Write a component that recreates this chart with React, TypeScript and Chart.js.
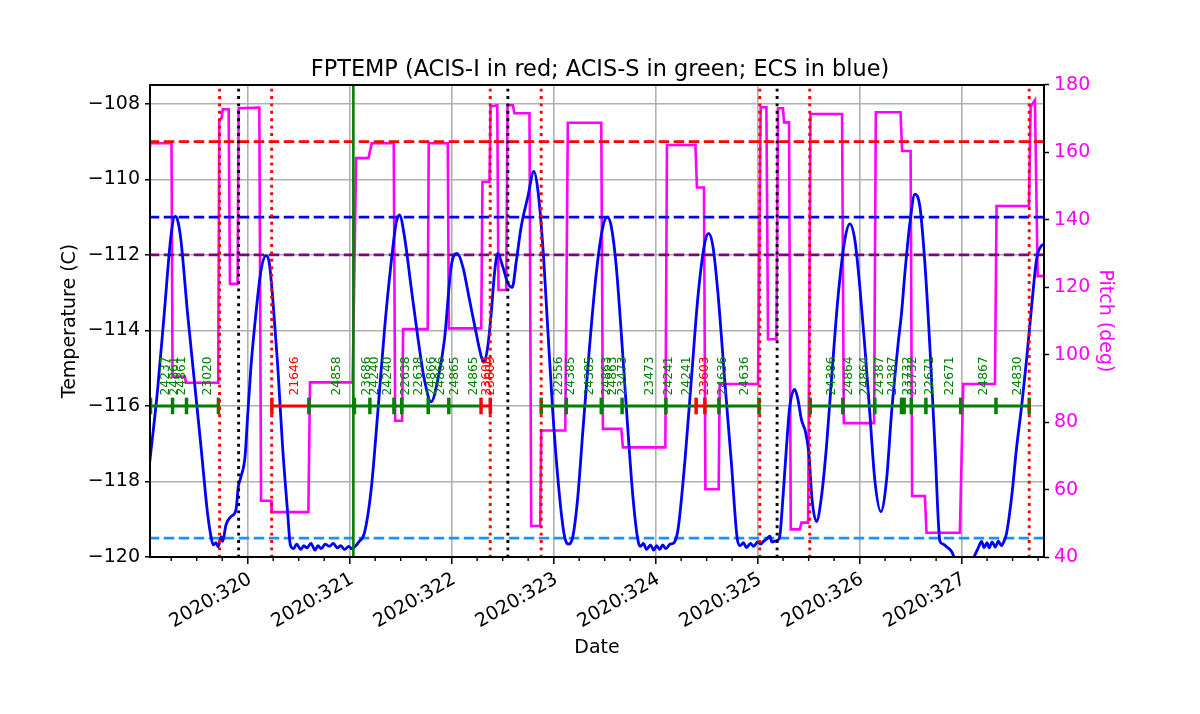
import React, { useEffect, useRef } from "react";
import { Chart, registerables } from "chart.js";

Chart.register(...registerables);
Chart.defaults.font.family = "'DejaVu Sans', sans-serif";

// ---------------- data ----------------
const tempDays = [
  319.034, 319.116, 319.182, 319.247, 319.287, 319.312, 319.345, 319.41, 319.476, 319.542, 319.606, 319.64, 319.662,
  319.689, 319.711, 319.738, 319.754, 319.787, 319.836, 319.885, 319.908, 319.934, 319.974, 319.999, 320.032, 320.081,
  320.131, 320.18, 320.212, 320.244, 320.293, 320.342, 320.392, 320.418, 320.45, 320.48, 320.52, 320.55, 320.58,
  320.62, 320.66, 320.69, 320.72, 320.76, 320.8, 320.84, 320.88, 320.91, 320.95, 320.99, 321.02, 321.06, 321.09,
  321.144, 321.21, 321.275, 321.341, 321.406, 321.455, 321.488, 321.537, 321.602, 321.667, 321.733, 321.799, 321.864,
  321.929, 321.995, 322.054, 322.109, 322.175, 322.24, 322.29, 322.315, 322.354, 322.388, 322.42, 322.452, 322.501,
  322.551, 322.594, 322.633, 322.682, 322.747, 322.806, 322.845, 322.894, 322.943, 322.992, 323.058, 323.107, 323.146,
  323.188, 323.237, 323.287, 323.352, 323.418, 323.483, 323.526, 323.565, 323.614, 323.663, 323.728, 323.777, 323.826,
  323.85, 323.88, 323.91, 323.95, 323.98, 324.01, 324.04, 324.07, 324.1, 324.14, 324.18, 324.219, 324.285, 324.35,
  324.415, 324.481, 324.52, 324.562, 324.611, 324.677, 324.743, 324.802, 324.83, 324.86, 324.89, 324.93, 324.96,
  325.0, 325.03, 325.06, 325.09, 325.12, 325.14, 325.17, 325.2, 325.217, 325.249, 325.283, 325.315, 325.364, 325.396,
  325.43, 325.469, 325.502, 325.534, 325.577, 325.626, 325.675, 325.724, 325.789, 325.855, 325.904, 325.953, 326.002,
  326.051, 326.1, 326.149, 326.208, 326.264, 326.313, 326.378, 326.411, 326.444, 326.493, 326.542, 326.591, 326.64,
  326.689, 326.739, 326.788, 326.82, 326.853, 326.903, 326.952, 327.02, 327.098, 327.13, 327.16, 327.196, 327.22,
  327.25, 327.27, 327.3, 327.33, 327.36, 327.39, 327.42, 327.441, 327.491, 327.54, 327.589, 327.638, 327.687, 327.736,
  327.785, 327.808,
];
const tempValues = [
  -117.61, -115.58, -113.54, -111.51, -110.98, -111.07, -111.6, -113.54, -115.31, -117.08, -118.84, -119.46, -119.68,
  -119.62, -119.73, -119.46, -119.59, -119.15, -118.93, -118.75, -118.14, -117.87, -117.34, -116.28, -114.96, -113.54,
  -112.4, -112.02, -112.22, -113.1, -114.87, -117.08, -118.84, -119.68, -119.78, -119.66, -119.8, -119.7, -119.76,
  -119.64, -119.82, -119.7, -119.78, -119.66, -119.72, -119.64, -119.76, -119.7, -119.8, -119.72, -119.78, -119.7,
  -119.6, -119.37, -118.23, -116.19, -113.99, -112.22, -111.16, -110.94, -111.51, -112.84, -114.16, -115.31, -115.89,
  -115.31, -114.25, -112.31, -111.96, -112.31, -113.19, -114.07, -114.69, -114.83, -114.43, -113.54, -112.48, -111.96,
  -112.31, -112.75, -112.86, -112.18, -111.25, -110.46, -109.79, -110.28, -111.78, -113.99, -116.19, -118.4, -119.46,
  -119.66, -119.46, -118.4, -116.64, -114.43, -112.48, -111.25, -111.0, -111.25, -112.31, -114.07, -116.64, -118.4,
  -119.55, -119.72, -119.64, -119.8, -119.68, -119.82, -119.7, -119.8, -119.68, -119.78, -119.66, -119.62, -119.28,
  -117.52, -115.31, -113.1, -111.69, -111.43, -111.78, -113.02, -115.31, -117.52, -119.55, -119.7, -119.62, -119.75,
  -119.64, -119.72, -119.6, -119.66, -119.58, -119.52, -119.45, -119.6, -119.58, -119.55, -119.46, -118.4, -117.08,
  -116.02, -115.56, -115.84, -116.37, -116.68, -117.25, -118.49, -119.06, -118.4, -117.08, -115.31, -113.1, -111.6,
  -111.18, -111.6, -112.84, -114.43, -116.19, -117.96, -118.8, -117.96, -116.19, -114.34, -113.54, -112.48, -111.16,
  -110.39, -110.72, -112.22, -114.43, -117.08, -119.59, -119.66, -119.73, -119.86, -120.17, -120.4, -120.15, -119.95,
  -119.78, -119.59, -119.75, -119.62, -119.76, -119.6, -119.74, -119.58, -119.7, -119.55, -119.37, -118.4, -117.08,
  -116.0, -114.75, -113.35, -112.1, -111.75, -111.72,
];

const pitchDays = [
  319.034, 319.044, 319.253, 319.263, 319.385, 319.394, 319.711, 319.721, 319.745, 319.755, 319.813, 319.826, 319.901,
  319.911, 320.114, 320.131, 320.229, 320.235, 320.595, 320.611, 321.029, 321.063, 321.184, 321.216, 321.432, 321.446,
  321.514, 321.524, 321.765, 321.775, 321.962, 321.972, 322.29, 322.302, 322.371, 322.381, 322.447, 322.459, 322.535,
  322.548, 322.6, 322.616, 322.763, 322.78, 322.868, 322.878, 323.114, 323.139, 323.467, 323.483, 323.663, 323.679,
  324.095, 324.111, 324.39, 324.405, 324.474, 324.488, 324.618, 324.628, 325.004, 325.03, 325.086, 325.102, 325.184,
  325.2, 325.249, 325.259, 325.308, 325.325, 325.413, 325.43, 325.495, 325.518, 325.828, 325.845, 326.142, 326.159,
  326.401, 326.417, 326.5, 326.515, 326.64, 326.656, 326.983, 327.016, 327.327, 327.343, 327.66, 327.677, 327.719,
  327.746, 327.808,
];
const pitchValues = [
  158.5, 162.7, 162.7, 93.5, 93.5, 91.7, 91.7, 169.6, 170.2, 172.8, 172.8, 121.0, 121.0, 173.1, 173.3, 56.7, 56.7,
  53.3, 53.3, 91.8, 91.8, 158.3, 158.3, 162.7, 162.7, 80.4, 80.4, 107.6, 107.6, 162.7, 162.7, 107.8, 107.8, 151.3,
  151.3, 173.6, 174.0, 119.2, 119.2, 174.0, 174.0, 171.6, 171.6, 49.2, 49.2, 77.5, 77.5, 168.8, 168.8, 78.0, 78.0,
  72.5, 72.5, 162.2, 162.2, 149.6, 149.6, 60.1, 60.1, 91.3, 91.3, 173.4, 173.4, 104.6, 104.6, 173.1, 173.1, 168.9,
  168.9, 48.2, 48.2, 50.2, 50.2, 171.4, 171.4, 79.7, 79.7, 171.9, 171.9, 160.4, 160.4, 58.1, 58.1, 47.2, 47.2, 91.3,
  91.3, 144.1, 144.1, 173.6, 175.5, 123.3, 123.3,
];

const limitValues = [-109, -111, -112, -119.5];
const limitColors = ["#ff0000", "#0000ff", "#800080", "#1e90ff"];

const radZoneDays = [319.724, 320.235, 322.378, 322.878, 325.021, 325.511, 327.663];
const perigeeDays = [319.911, 322.551, 325.191];
const greenMarkDays = [321.036];

const obsLevel = -116;
const greenRunStarts = [319.047, 320.6, 322.878, 324.483, 325.516];
const greenRunEnds = [319.713, 322.288, 324.397, 325.014, 327.663];
const redRunStarts = [320.237, 322.288, 324.397];
const redRunEnds = [320.6, 322.379, 324.483];
const greenTickDays = [
  319.047, 319.263, 319.4, 319.713, 320.6, 321.046, 321.198, 321.434, 321.51, 321.77, 321.972, 322.878, 323.124,
  323.467, 323.671, 324.101, 324.62, 325.014, 325.516, 325.835, 326.149, 326.411, 326.436, 326.507, 326.65, 326.991,
  327.337, 327.663,
];
const redTickDays = [320.237, 322.288, 322.379, 324.397, 324.483];

const obsLabelTexts = [
  "24237", "24861", "24861", "23020", "21646", "24858", "23686", "24240", "24240", "22638", "22638", "24866", "24866",
  "24865", "24865", "23609", "23609", "22556", "24385", "24385", "24863", "24863", "23473", "23473", "24241", "24241",
  "23603", "24636", "24636", "24386", "24864", "24864", "24387", "24387", "23732", "23732", "22671", "22671", "24867",
  "24830",
];
const obsLabelDays = [
  319.201, 319.29, 319.358, 319.606, 320.46, 320.869, 321.164, 321.242, 321.377, 321.547, 321.679, 321.802, 321.893,
  322.027, 322.214, 322.346, 322.381, 323.048, 323.172, 323.352, 323.517, 323.581, 323.676, 323.941, 324.13, 324.304,
  324.481, 324.659, 324.874, 325.724, 325.892, 326.048, 326.201, 326.329, 326.47, 326.522, 326.689, 326.88, 327.222,
  327.55,
];
const obsLabelIsRed = [
  false, false, false, false, true, false, false, false, false, false, false, false, false, false, false, true, true,
  false, false, false, false, false, false, false, false, false, true, false, false, false, false, false, false, false,
  false, false, false, false, false, false,
];

const xMin = 319.042;
const xMax = 327.808;
const xMajorDays = [320, 321, 322, 323, 324, 325, 326, 327];
const tempTicks = [-120, -118, -116, -114, -112, -110, -108];
const pitchTicks = [40, 60, 80, 100, 120, 140, 160, 180];

const GREEN = "#008000";
const RED = "#ff0000";

const isInt = (v: number) => Math.abs(v - Math.round(v)) < 1e-6;

function quarterTicks(): number[] {
  const out: number[] = [];
  const first = Math.ceil(xMin * 4) / 4;
  for (let k = 0; first + k * 0.25 <= xMax; k++) out.push(Math.round((first + k * 0.25) * 4) / 4);
  return out;
}

export default function App() {
  const ref = useRef<HTMLCanvasElement | null>(null);

  useEffect(() => {
    if (!ref.current) return;
    const xTicks = quarterTicks();

    const pts = (xs: number[], ys: number[]) => xs.map((x, i) => ({ x, y: ys[i] }));
    const datasets: any[] = [];

    datasets.push({
      label: "pitch",
      data: pts(pitchDays, pitchValues),
      yAxisID: "y1",
      borderColor: "#ff00ff",
      borderWidth: 2.6,
      pointRadius: 0,
      tension: 0,
      order: 60,
    });

    limitValues.forEach((v, i) => {
      datasets.push({
        label: "limit" + i,
        data: [
          { x: 318, y: v },
          { x: 329, y: v },
        ],
        yAxisID: "y",
        borderColor: limitColors[i],
        borderWidth: 2.8,
        borderDash: [10.5, 4.5],
        pointRadius: 0,
        order: 50,
      });
    });

    datasets.push({
      label: "temp",
      data: pts(tempDays, tempValues),
      yAxisID: "y",
      borderColor: "#0000ff",
      borderWidth: 2.8,
      pointRadius: 0,
      cubicInterpolationMode: "monotone",
      order: 40,
    });

    greenRunStarts.forEach((s, i) => {
      datasets.push({
        label: "g" + i,
        data: [
          { x: s, y: obsLevel },
          { x: greenRunEnds[i], y: obsLevel },
        ],
        yAxisID: "y",
        borderColor: GREEN,
        borderWidth: 3,
        pointRadius: 0,
        order: 30,
      });
    });
    redRunStarts.forEach((s, i) => {
      datasets.push({
        label: "r" + i,
        data: [
          { x: s, y: obsLevel },
          { x: redRunEnds[i], y: obsLevel },
        ],
        yAxisID: "y",
        borderColor: RED,
        borderWidth: 3,
        pointRadius: 0,
        order: 29,
      });
    });
    datasets.push({
      label: "gticks",
      data: greenTickDays.map((d) => ({ x: d, y: obsLevel })),
      yAxisID: "y",
      showLine: false,
      pointStyle: "line",
      pointRotation: 90,
      pointRadius: 8.3,
      pointBorderWidth: 3.5,
      pointBorderColor: GREEN,
      pointBackgroundColor: GREEN,
      order: 26,
    });
    datasets.push({
      label: "rticks",
      data: redTickDays.map((d) => ({ x: d, y: obsLevel })),
      yAxisID: "y",
      showLine: false,
      pointStyle: "line",
      pointRotation: 90,
      pointRadius: 8.3,
      pointBorderWidth: 3.5,
      pointBorderColor: RED,
      pointBackgroundColor: RED,
      order: 25,
    });

    const vline = (d: number, color: string, dash: number[], width: number, order: number) => ({
      label: "v" + d,
      data: [
        { x: d, y: -121 },
        { x: d, y: -107 },
      ],
      yAxisID: "y",
      borderColor: color,
      borderWidth: width,
      borderDash: dash,
      borderCapStyle: "butt",
      pointRadius: 0,
      order,
    });
    radZoneDays.forEach((d) => datasets.push(vline(d, RED, [2.9, 4.5], 2.9, 20)));
    perigeeDays.forEach((d) => datasets.push(vline(d, "#000000", [2.9, 4.5], 2.9, 20)));
    greenMarkDays.forEach((d) => datasets.push(vline(d, GREEN, [], 2.6, 21)));

    const overlay = {
      id: "overlay",
      afterDatasetsDraw(chart: any) {
        const { ctx, chartArea, scales } = chart;
        const xs = scales.x;
        const ys = scales.y;
        // observation labels
        ctx.save();
        ctx.font = "12.3px 'DejaVu Sans'";
        ctx.textAlign = "left";
        ctx.textBaseline = "middle";
        const baseY = ys.getPixelForValue(obsLevel) - 10.5;
        obsLabelTexts.forEach((t, i) => {
          const px = xs.getPixelForValue(obsLabelDays[i]);
          ctx.save();
          ctx.translate(px, baseY);
          ctx.rotate(-Math.PI / 2);
          ctx.fillStyle = obsLabelIsRed[i] ? RED : GREEN;
          ctx.fillText(t, 0, 0);
          ctx.restore();
        });
        ctx.restore();
        // frame
        ctx.save();
        ctx.strokeStyle = "#000";
        ctx.lineWidth = 2;
        ctx.strokeRect(chartArea.left, chartArea.top, chartArea.right - chartArea.left, chartArea.bottom - chartArea.top);
        // minor ticks
        ctx.lineWidth = 1.4;
        xTicks.forEach((v) => {
          if (isInt(v)) return;
          const px = xs.getPixelForValue(v);
          ctx.beginPath();
          ctx.moveTo(px, chartArea.bottom);
          ctx.lineTo(px, chartArea.bottom + 4);
          ctx.stroke();
        });
        ctx.restore();
      },
    };

    const chart = new Chart(ref.current, {
      type: "line",
      data: { datasets },
      plugins: [overlay],
      options: {
        animation: false,
        responsive: false,
        events: [],
        layout: { padding: 0 },
        plugins: {
          legend: { display: false },
          tooltip: { enabled: false },
          title: {
            display: true,
            text: "FPTEMP (ACIS-I in red; ACIS-S in green; ECS in blue)",
            color: "#000",
            font: { size: 22.4, weight: "normal" },
            padding: { top: 56.5, bottom: 1.6 },
          },
        },
        scales: {
          x: {
            type: "linear",
            min: xMin,
            max: xMax,
            bounds: "data",
            afterBuildTicks: (s: any) => {
              s.ticks = xTicks.map((v) => ({ value: v }));
            },
            afterFit: (s: any) => {
              s.height = 157;
            },
            ticks: {
              autoSkip: false,
              minRotation: 30,
              maxRotation: 30,
              color: "#000",
              padding: 4,
              labelOffset: 2.5,
              font: { size: 19 },
              callback: (v: any) => (isInt(Number(v)) && xMajorDays.includes(Math.round(Number(v))) ? "2020:" + Math.round(Number(v)) : ""),
            },
            grid: {
              color: (c: any) => (c.tick && isInt(c.tick.value) ? "#b0b0b0" : "rgba(0,0,0,0)"),
              lineWidth: 1.6,
              tickLength: 7,
              tickWidth: 1.5,
              tickColor: (c: any) => (c.tick && isInt(c.tick.value) ? "#000" : "rgba(0,0,0,0)"),
            },
            border: { display: true, color: "#000", width: 2 },
            title: {
              display: true,
              text: "Date",
              color: "#000",
              font: { size: 19 },
              padding: { top: 0, bottom: 54.6 },
            },
          },
          y: {
            type: "linear",
            position: "left",
            min: -120,
            max: -107.5,
            bounds: "data",
            afterBuildTicks: (s: any) => {
              s.ticks = tempTicks.map((v) => ({ value: v }));
            },
            afterFit: (s: any) => {
              s.width = 150;
            },
            ticks: {
              color: "#000",
              padding: 5,
              font: { size: 19 },
              callback: (v: any) => (Number(v) < 0 ? "\u2212" + Math.abs(Number(v)) : String(v)),
            },
            grid: {
              color: "#b0b0b0",
              lineWidth: 1.6,
              tickLength: 5,
              tickWidth: 1.5,
              tickColor: "#000",
            },
            border: { display: true, color: "#000", width: 2 },
            title: {
              display: true,
              text: "Temperature (C)",
              color: "#000",
              font: { size: 19 },
              padding: { top: 58.6, bottom: 0 },
            },
          },
          y1: {
            type: "linear",
            position: "right",
            min: 40,
            max: 180,
            bounds: "data",
            afterBuildTicks: (s: any) => {
              s.ticks = pitchTicks.map((v) => ({ value: v }));
            },
            afterFit: (s: any) => {
              s.width = 156;
            },
            ticks: {
              color: "#ff00ff",
              padding: 5,
              font: { size: 19 },
            },
            grid: {
              display: true,
              drawOnChartArea: false,
              tickLength: 5,
              tickWidth: 1.5,
              tickColor: "#000",
            },
            border: { display: true, color: "#000", width: 2 },
            title: {
              display: true,
              text: "Pitch (deg)",
              color: "#ff00ff",
              font: { size: 19 },
              padding: { top: 83.6, bottom: 0 },
            },
          },
        },
      } as any,
    });

    return () => chart.destroy();
  }, []);

  return (
    <div style={{ position: "fixed", left: 0, top: 0, width: 1200, height: 714, background: "#fff" }}>
      <canvas ref={ref} width={1200} height={714} style={{ width: 1200, height: 714, display: "block" }} />
    </div>
  );
}
